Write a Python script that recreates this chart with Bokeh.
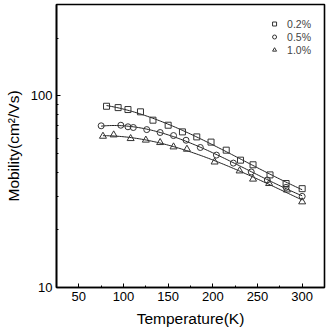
import numpy as np
from bokeh.plotting import figure
from bokeh.models import Range1d, FixedTicker, Legend, LegendItem, PrintfTickFormatter
from bokeh.embed import file_html
from bokeh.resources import INLINE

# data
t_02 = [81, 94, 105, 119, 133, 150, 166, 182, 198, 215, 231, 245, 264, 282, 300]
mu_02 = [88.3, 86.9, 84.9, 82.6, 74.7, 70.3, 64.9, 61.1, 57.4, 52.1, 46.2, 43.7, 38.7, 34.9, 32.8]

t_05 = [75, 97, 105, 111, 126, 141, 156, 170, 186, 204, 223, 243, 261, 282, 300]
mu_05 = [69.8, 70.3, 69.0, 68.4, 66.7, 64.4, 62.1, 58.7, 53.8, 49.1, 44.6, 40.1, 36.4, 33.3, 29.9]

t_10 = [77, 89, 108, 125, 141, 156, 171, 202, 230, 245, 263, 283, 300]
mu_10 = [61.6, 62.6, 59.9, 58.8, 57.1, 54.2, 52.7, 45.2, 40.6, 36.8, 34.9, 32.3, 28.0]

labels = ["0.2%", "0.5%", "1.0%"]
x_ticks = [50, 100, 150, 200, 250, 300]
x_minor = [75, 125, 175, 225, 275]
y_major = [10, 100]
y_minor = [20, 30, 40, 50, 60, 70, 80, 90, 200]

FONT = "Liberation Sans"

p = figure(width=326, height=329, output_backend="svg", toolbar_location=None,
           y_axis_type="log", x_range=Range1d(25, 325), y_range=Range1d(10, 300),
           min_border_left=56, min_border_right=2, min_border_top=4, min_border_bottom=42)

p.xgrid.visible = False
p.ygrid.visible = False
p.outline_line_color = "black"
p.outline_line_width = 1.6
p.background_fill_color = "white"
p.border_fill_color = "white"

def fit_curve(t, mu, deg=3):
    t = np.asarray(t, float)
    c = np.polyfit(t, np.log10(mu), deg)
    tt = np.linspace(t.min(), t.max(), 120)
    return tt, 10 ** np.polyval(c, tt)

renderers = []
for t, mu, marker, size in [(t_02, mu_02, "square", 6), (t_05, mu_05, "circle", 6), (t_10, mu_10, "triangle", 7)]:
    tt, ff = fit_curve(t, mu)
    p.line(tt, ff, line_color="#222222", line_width=1)
    r = p.scatter(t, mu, marker=marker, size=size, fill_color=None, line_color="#333333", line_width=1)
    renderers.append(r)

legend = Legend(items=[LegendItem(label=l, renderers=[r]) for l, r in zip(labels, renderers)],
                location="top_right", border_line_color=None, background_fill_alpha=0,
                label_text_font=FONT, label_text_font_size="10.5px", label_standoff=8,
                glyph_width=10, glyph_height=13, label_height=13, spacing=0,
                padding=4, margin=13)
p.add_layout(legend)

xa = p.xaxis[0]
xa.ticker = FixedTicker(ticks=x_ticks, minor_ticks=x_minor)
ya = p.yaxis[0]
ya.ticker = FixedTicker(ticks=y_major, minor_ticks=y_minor)
ya.formatter = PrintfTickFormatter(format="%d")

for ax in (xa, ya):
    ax.major_tick_in = 4
    ax.major_tick_out = 0
    ax.minor_tick_in = 2
    ax.minor_tick_out = 0
    ax.axis_line_width = 1.6
    ax.major_label_text_font = FONT
    ax.major_label_text_font_size = "13px"
    ax.major_label_text_color = "black"
    ax.axis_label_text_font = FONT
    ax.axis_label_text_font_style = "normal"
    ax.axis_label_text_font_size = "15.5px"
    ax.axis_label_text_color = "black"
    ax.major_label_standoff = 4

xa.axis_label = "Temperature(K)"
xa.axis_label_standoff = 6
ya.axis_label = "Mobility(cm²/Vs)"
ya.axis_label_standoff = 6

open("out.html", "w").write(file_html(p, INLINE))
